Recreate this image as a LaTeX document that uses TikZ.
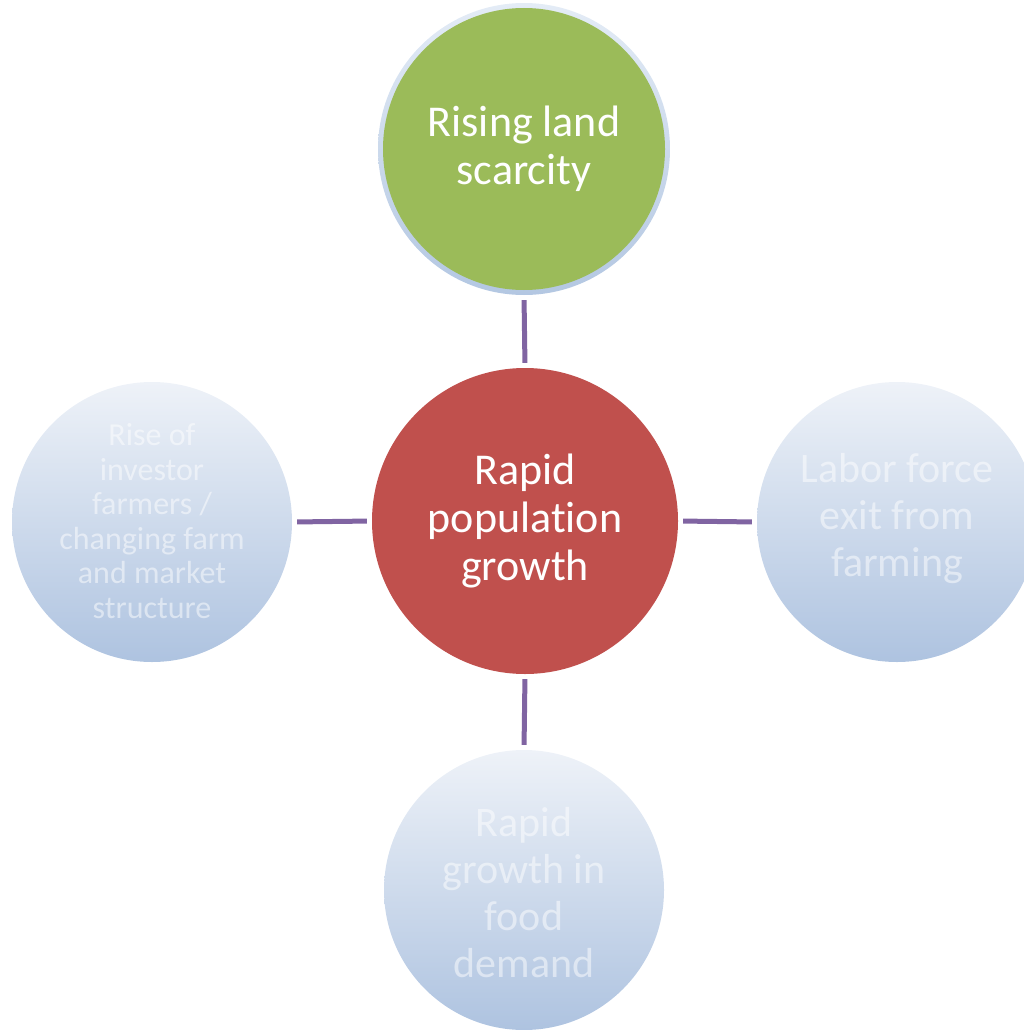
\documentclass[tikz,border=0pt]{standalone}
\usepackage{fontspec}
\setmainfont[Ligatures={NoCommon,NoRare}]{Carlito}
\usetikzlibrary{shadings}
\definecolor{cgreen}{HTML}{9BBB59}
\definecolor{cred}{HTML}{C0504D}
\definecolor{cpurple}{HTML}{8064A2}
\definecolor{fadetop}{HTML}{EEF2F8}
\definecolor{fadebot}{HTML}{AEC3E0}
\definecolor{ringtop}{HTML}{E4ECF6}
\definecolor{ringbot}{HTML}{B3C7E2}
\tikzset{
  faded/.style={circle, minimum size=280pt, inner sep=0pt, top color=fadetop, bottom color=fadebot, shading angle=0},
  fadedtext/.style={text=white, text opacity=0.5, align=center, font=\fontsize{42}{47}\selectfont},
  link/.style={draw=cpurple, line width=5pt, shorten <=5pt, shorten >=5pt},
  maintext/.style={text=white, align=center, font=\fontsize{44}{48}\selectfont}
}
\begin{document}
\begin{tikzpicture}[x=1pt,y=-1pt]
\useasboundingbox (0,0) rectangle (1024,1030);
\clip (0,0) rectangle (1024,1030);
% top node with ring
\node[circle, minimum size=292pt, inner sep=0pt, top color=ringtop, bottom color=ringbot] (topring) at (524,149) {};
\node[circle, minimum size=282pt, inner sep=0pt, fill=cgreen] (top) at (524,149) {};
\node[maintext] (toptxt) at (524,149) {Rising land\\scarcity};
% center
\node[circle, minimum size=306pt, inner sep=0pt, fill=cred] (center) at (525,521) {};
\node[maintext] (centertxt) at (525,521) {Rapid\\population\\growth};
% faded nodes
\node[faded] (left) at (152,522) {};
\node[fadedtext, font=\fontsize{32}{34.5}\selectfont] (lefttxt) at (152,521) {Rise of\\investor\\farmers /\\changing farm\\and market\\structure};
\node[faded] (right) at (897,522) {};
\node[fadedtext] (righttxt) at (897,519) {Labor force\\exit from\\farming};
\node[faded] (bottom) at (524,890) {};
\node[fadedtext] (bottomtxt) at (524,893) {Rapid\\growth in\\food\\demand};
% connectors
\draw[link] (topring.south) -- (center.north);
\draw[link] (center.west) -- (left.east);
\draw[link] (center.east) -- (right.west);
\draw[link] (center.south) -- (bottom.north);
\end{tikzpicture}
\end{document}
